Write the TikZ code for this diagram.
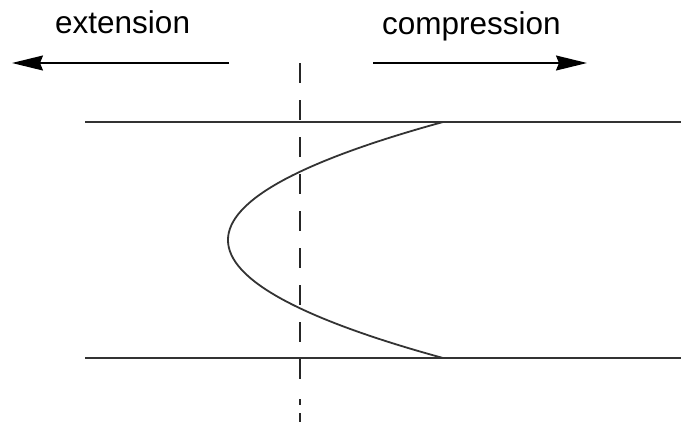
\documentclass[tikz,border=0pt]{standalone}
\usepackage{fontspec}
\setmainfont{Liberation Sans}
\usetikzlibrary{arrows.meta}
\begin{document}
\begin{tikzpicture}[x=1pt,y=-1pt,
  lbl/.style={inner sep=0pt,anchor=base west,font=\fontsize{31.5}{36}\selectfont},
  thinline/.style={line width=1.6pt,black!80},
  arr/.style={line width=1.4pt,-{Stealth[length=31pt,width=15pt,inset=3pt]}},
  axisline/.style={line width=1.7pt,black!85}]
\useasboundingbox (0,0) rectangle (681,421);
\clip (0,0) rectangle (681,421);
% labels
\node[lbl] (ext) at (55,33) {extension};
\node[lbl] (comp) at (382,34) {compression};
% arrows
\coordinate (la) at (229,63);
\coordinate (lb) at (12,63);
\coordinate (ra) at (373,63);
\coordinate (rb) at (587,63);
\draw[arr] (la) -- (lb);
\draw[arr] (ra) -- (rb);
% horizontal lines
\coordinate (t1) at (85,122);
\coordinate (t2) at (681,122);
\coordinate (b1) at (85,358);
\coordinate (b2) at (681,358);
\draw[thinline] (t1) -- (t2);
\draw[thinline] (b1) -- (b2);
% dashed centre line
\coordinate (d1) at (300,63);
\coordinate (d2) at (300,382);
\draw[axisline,dash pattern=on 20pt off 17pt] (d1) -- (d2);
\draw[axisline] (300,399) -- (300,405) (300,413) -- (300,425);
% parabolic profile
\coordinate (p0) at (443,122);
\coordinate (p1) at (443,358);
\draw[thinline,line width=1.8pt] (p0) .. controls (156.3,200.7) and (156.3,279.3) .. (p1);
\end{tikzpicture}
\end{document}
